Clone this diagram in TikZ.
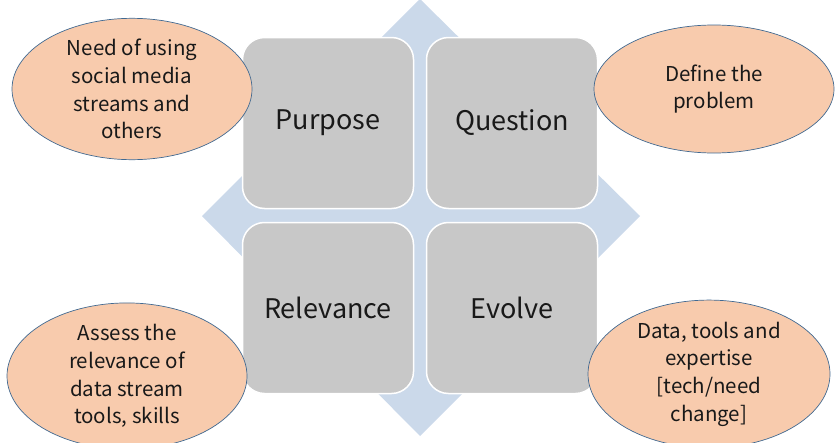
\documentclass[tikz,border=0pt]{standalone}
\usepackage{fontspec}
\setmainfont{Noto Sans CJK JP}
\usetikzlibrary{shapes.geometric}
\definecolor{diamondblue}{RGB}{203,217,234}
\definecolor{boxgray}{RGB}{200,200,200}
\definecolor{peach}{RGB}{248,203,173}
\definecolor{ellborder}{RGB}{65,105,145}
\tikzset{
  quad/.style={rectangle, rounded corners=22pt, fill=boxgray, draw=white, line width=1.5pt,
    minimum width=171pt, minimum height=171pt, inner sep=0pt,
    font=\fontsize{27}{32}\selectfont, text=black!90},
  bubble/.style={ellipse, fill=peach, draw=ellborder, line width=0.7pt,
    minimum width=240pt, minimum height=128pt, inner sep=0pt, align=center,
    font=\fontsize{20.5}{27.7}\selectfont, text=black!90}
}
\begin{document}
\begin{tikzpicture}[x=1pt,y=-1pt]
\useasboundingbox (0,0) rectangle (835,442);
\fill[diamondblue] (420,-1) -- (640,216) -- (420,436) -- (202,216) -- cycle;
\node[quad] (purpose) at (328,123) {Purpose};
\node[quad] (question) at (512,123) {Question};
\node[quad] (relevance) at (328,308) {Relevance};
\node[quad] (evolve) at (512,308) {Evolve};
\node[bubble] (need) at (132,89) {Need of using\\social media\\streams and\\others};
\node[bubble] (define) at (714,89) {Define the\\problem};
\node[bubble, minimum height=136pt] (assess) at (127,376) {Assess the\\relevance of\\data stream\\tools, skills};
\node[bubble, minimum width=242pt] (data) at (709,374) {Data, tools and\\expertise\\{[}tech/need\\change{]}};
\end{tikzpicture}
\end{document}
